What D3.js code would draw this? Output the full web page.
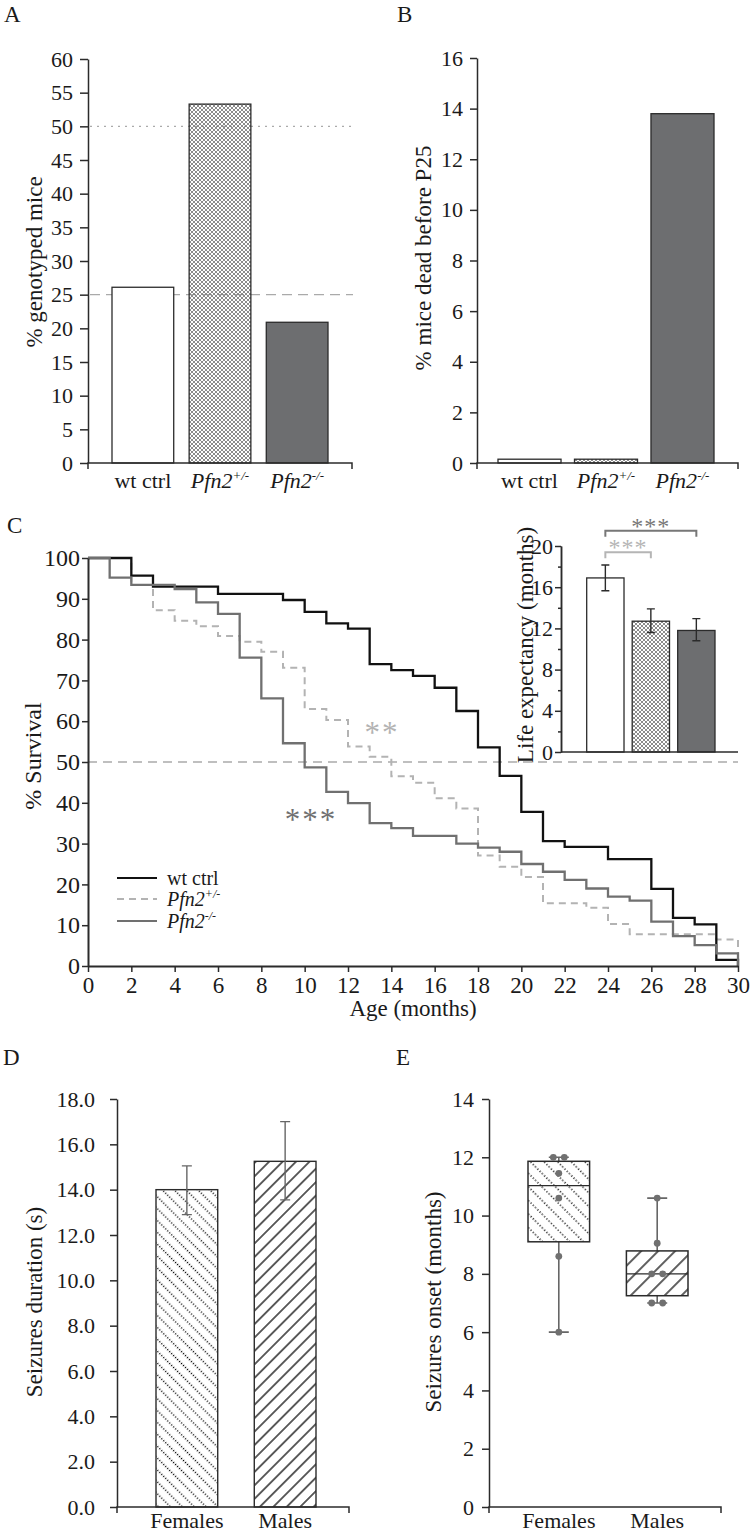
<!DOCTYPE html>
<html>
<head>
<meta charset="utf-8">
<script src="https://cdn.jsdelivr.net/npm/d3@7"></script>
<style>
  body { margin: 0; background: #fff; }
  svg { display: block; font-family: "Liberation Serif", "Times New Roman", serif; }
</style>
</head>
<body>
<svg id="fig" width="752" height="1535"></svg>
<script>
// ---- data ----
const genotypes = ["wt ctrl", "Pfn2+/-", "Pfn2-/-"];
const genotypedPct = [26.1, 53.3, 20.9];
const mendelianRefs = [50, 25];
const deadBeforeP25 = [0.15, 0.15, 13.8];

// Kaplan-Meier steps [month, % survival]
const wtSurvival = [[0, 100], [2, 95.7], [3, 93], [6, 91.2], [9, 89.7], [10, 86.8], [11, 84], [12, 82.7],
  [13, 74], [14, 72.5], [15, 71.1], [16, 68.2], [17, 62.5], [18, 53.6], [19, 46.6], [20, 37.8],
  [21, 30.6], [22, 29.2], [24, 26.2], [26, 18.9], [27, 11.8], [28, 10.2], [29, 1.5]];
const hetSurvival = [[0, 100], [2, 93.4], [3, 87.2], [4, 84.6], [5, 83.3], [6, 80.9], [7, 79.5], [8, 77],
  [9, 73.1], [10, 63], [11, 60.3], [12, 53.8], [13, 51.3], [14, 46.5], [15, 44.9], [16, 41.1],
  [17, 38.6], [18, 27.1], [19, 24.3], [20, 21.8], [21, 15.4], [23, 14.3], [24, 10.3], [25, 7.8], [29, 6.5]];
const koSurvival = [[0, 100], [1, 95.2], [2, 93.4], [4, 92.4], [5, 89.1], [6, 86.3], [7, 75.6], [8, 65.6],
  [9, 54.6], [10, 48.7], [11, 42.7], [12, 39.9], [13, 35], [14, 33.8], [15, 31.9], [17, 30], [18, 29],
  [19, 28], [20, 25], [21, 23.1], [22, 21.1], [23, 19], [24, 17], [25, 16], [26, 10.9], [27, 7.3],
  [28, 5.1], [29, 3.1]];
const survivalTicksX = d3.range(0, 31, 2);
const survivalTicksY = d3.range(0, 101, 10);

const lifeExpectancy = [16.9, 12.7, 11.8];
const lifeExpLow = [15.65, 11.6, 10.8];
const lifeExpHigh = [18.15, 13.9, 12.95];

const sexes = ["Females", "Males"];
const seizureDuration = [14.0, 15.25];
const seizureDurLow = [12.9, 13.55];
const seizureDurHigh = [15.05, 17.0];

const onsetFemales = [12, 12, 11.45, 10.6, 8.6, 6.0];
const onsetMales = [10.6, 9.05, 8.0, 8.0, 7.0, 7.0];

// ---- helpers ----
const svg = d3.select("#fig");
const defs = svg.append("defs");
const ink = "#2b2b2b";
const txt = "#1a1a1a";

const xh = defs.append("pattern").attr("id", "xhatch")
  .attr("patternUnits", "userSpaceOnUse").attr("width", 4).attr("height", 4);
xh.append("path").attr("d", "M0,0L4,4M4,0L0,4").attr("stroke", "#777").attr("stroke-width", 0.85);

function hatch(id, angle, gap, dash, width) {
  const p = defs.append("pattern").attr("id", id)
    .attr("patternUnits", "userSpaceOnUse")
    .attr("width", gap).attr("height", gap)
    .attr("patternTransform", `rotate(${angle})`);
  p.append("rect").attr("width", gap).attr("height", gap).attr("fill", "#fff");
  p.append("line").attr("x1", gap / 2).attr("x2", gap / 2).attr("y1", 0).attr("y2", gap)
    .attr("stroke", "#000").attr("stroke-width", width)
    .attr("stroke-dasharray", dash);
}
hatch("dFem", -45, 8.4, "1.1,1.7", 1.4);
hatch("dMal", 45, 9.5, null, 1.25);
hatch("eFem", -45, 9.6, "1.2,2", 1.4);
hatch("eMal", 45, 12, null, 1.25);

const genoFill = ["#fff", "url(#xhatch)", "#6d6e70"];

function styleAxis(g, fs) {
  g.attr("font-family", null).attr("font-size", null);
  g.select(".domain").attr("stroke", ink).attr("stroke-width", 1.5);
  g.selectAll(".tick line").attr("stroke", ink).attr("stroke-width", 1.5);
  g.selectAll(".tick text").attr("font-size", fs).attr("fill", txt);
}

function genoLabel(sel, g, sup) {
  if (g === "wt ctrl") { sel.text(g); return; }
  sel.append("tspan").attr("font-style", "italic").text(g.slice(0, 4));
  sel.append("tspan").attr("font-style", "italic").attr("font-size", sup).attr("dy", -8).text(g.slice(4));
}

function yLabel(x, y, text, fs) {
  svg.append("text").attr("transform", `translate(${x},${y}) rotate(-90)`)
    .attr("text-anchor", "middle").attr("dominant-baseline", "central")
    .attr("font-size", fs).attr("fill", txt).text(text);
}

function panelLetter(x, y, s) {
  svg.append("text").attr("x", x).attr("y", y).attr("font-size", 23).attr("fill", txt).text(s);
}

function baseAxis(x0, x1, y) {
  svg.append("path").attr("d", `M${x0},${y + 6}V${y}H${x1}V${y + 6}`)
    .attr("fill", "none").attr("stroke", ink).attr("stroke-width", 1.5);
}

// ---- Panel A ----
panelLetter(4, 22, "A");
const yA = d3.scaleLinear().domain([0, 60]).range([463, 59]);
const xA = d3.scaleBand().domain(genotypes).range([112, 328]).paddingInner(0.2);
svg.append("g").selectAll("line").data(mendelianRefs).join("line")
  .attr("x1", 90).attr("x2", 353).attr("y1", d => yA(d)).attr("y2", d => yA(d))
  .attr("stroke", "#aaa").attr("stroke-width", 1.4)
  .attr("stroke-dasharray", (d, i) => i === 0 ? "2,5" : "10,6");
svg.append("g").selectAll("rect").data(genotypes).join("rect")
  .attr("x", d => xA(d)).attr("width", xA.bandwidth())
  .attr("y", (d, i) => yA(genotypedPct[i])).attr("height", (d, i) => yA(0) - yA(genotypedPct[i]))
  .attr("fill", (d, i) => genoFill[i]).attr("stroke", ink).attr("stroke-width", 1.3);
svg.append("g").attr("transform", "translate(88,0)")
  .call(d3.axisLeft(yA).tickValues(d3.range(0, 61, 5)).tickSize(8).tickPadding(7).tickSizeOuter(0))
  .call(g => styleAxis(g, 22));
baseAxis(88, 352, 463);
genotypes.forEach(g => {
  svg.append("text").attr("x", xA(g) + xA.bandwidth() / 2).attr("y", 488)
    .attr("text-anchor", "middle").attr("font-size", 22).attr("fill", txt)
    .call(s => genoLabel(s, g, 13));
});
yLabel(34, 262, "% genotyped mice", 23);

// ---- Panel B ----
panelLetter(397, 22, "B");
const yB = d3.scaleLinear().domain([0, 16]).range([463, 58]);
const xB = d3.scaleBand().domain(genotypes).range([498, 714]).paddingInner(0.176);
svg.append("g").selectAll("rect").data(genotypes).join("rect")
  .attr("x", d => xB(d)).attr("width", xB.bandwidth())
  .attr("y", (d, i) => yB(deadBeforeP25[i])).attr("height", (d, i) => yB(0) - yB(deadBeforeP25[i]))
  .attr("fill", (d, i) => genoFill[i]).attr("stroke", ink).attr("stroke-width", 1.3);
svg.append("g").attr("transform", "translate(477,0)")
  .call(d3.axisLeft(yB).tickValues(d3.range(0, 17, 2)).tickSize(7).tickPadding(7).tickSizeOuter(0))
  .call(g => styleAxis(g, 22));
baseAxis(477, 738, 463);
genotypes.forEach(g => {
  svg.append("text").attr("x", xB(g) + xB.bandwidth() / 2).attr("y", 488)
    .attr("text-anchor", "middle").attr("font-size", 22).attr("fill", txt)
    .call(s => genoLabel(s, g, 13));
});
yLabel(423, 258, "% mice dead before P25", 23);

// ---- Panel C: survival ----
panelLetter(7, 533, "C");
const xC = d3.scaleLinear().domain([0, 30]).range([88, 738]);
const yC = d3.scaleLinear().domain([0, 100]).range([966, 558]);
svg.append("line").attr("x1", xC(0)).attr("x2", xC(30)).attr("y1", yC(50)).attr("y2", yC(50))
  .attr("stroke", "#aaa").attr("stroke-width", 1.4).attr("stroke-dasharray", "9,6");

const step = d3.line().x(d => xC(d[0])).y(d => yC(d[1])).curve(d3.curveStepAfter);
const closeCurve = s => s.concat([[30, s[s.length - 1][1]], [30, 0]]);
const curves = [
  { name: genotypes[1], data: hetSurvival, color: "#b3b3b3", dash: "7,5", w: 2 },
  { name: genotypes[0], data: wtSurvival, color: "#111", dash: null, w: 2.3 },
  { name: genotypes[2], data: koSurvival, color: "#707070", dash: null, w: 2.3 }
];
svg.append("g").selectAll("path").data(curves).join("path")
  .attr("d", d => step(closeCurve(d.data)))
  .attr("fill", "none").attr("stroke", d => d.color).attr("stroke-width", d => d.w)
  .attr("stroke-dasharray", d => d.dash);

svg.append("g").attr("transform", "translate(0,966)")
  .call(d3.axisBottom(xC).tickValues(survivalTicksX).tickSize(6).tickPadding(5).tickSizeOuter(0))
  .call(g => styleAxis(g, 23))
  .call(g => g.select(".domain").attr("stroke-width", 2));
svg.append("g").attr("transform", "translate(88,0)")
  .call(d3.axisLeft(yC).tickValues(survivalTicksY).tickSize(6).tickPadding(2).tickSizeOuter(0))
  .call(g => styleAxis(g, 24))
  .call(g => g.select(".domain").attr("stroke-width", 2));
svg.append("text").attr("x", 413).attr("y", 1016).attr("text-anchor", "middle")
  .attr("font-size", 23).attr("fill", txt).text("Age (months)");
yLabel(33, 756, "% Survival", 24);

svg.append("text").attr("x", 382).attr("y", 743).attr("text-anchor", "middle")
  .attr("font-size", 31).attr("letter-spacing", 2).attr("fill", "#b3b3b3").text("**");
svg.append("text").attr("x", 311).attr("y", 830).attr("text-anchor", "middle")
  .attr("font-size", 31).attr("letter-spacing", 2).attr("fill", "#707070").text("***");

// legend
const legOrder = [curves[1], curves[0], curves[2]];
const leg = svg.append("g").selectAll("g").data(legOrder).join("g")
  .attr("transform", (d, i) => `translate(117,${[878, 899, 921][i]})`);
leg.append("line").attr("x1", 0).attr("x2", 40)
  .attr("stroke", d => d.color).attr("stroke-width", 2).attr("stroke-dasharray", d => d.dash);
leg.append("text").attr("x", 50).attr("y", 7).attr("font-size", 20).attr("fill", txt)
  .each(function (d) { genoLabel(d3.select(this), d.name, 12); });

// inset: life expectancy
const yI = d3.scaleLinear().domain([0, 20]).range([752, 546]);
const xI = d3.scaleBand().domain(genotypes).range([586.7, 715]).paddingInner(0.18);
svg.append("g").selectAll("rect").data(genotypes).join("rect")
  .attr("x", d => xI(d)).attr("width", xI.bandwidth())
  .attr("y", (d, i) => yI(lifeExpectancy[i])).attr("height", (d, i) => yI(0) - yI(lifeExpectancy[i]))
  .attr("fill", (d, i) => genoFill[i]).attr("stroke", ink).attr("stroke-width", 1.3);
const eb = svg.append("g").attr("stroke", ink).attr("stroke-width", 1.4);
genotypes.forEach((g, i) => {
  const cx = xI(g) + xI.bandwidth() / 2;
  eb.append("path").attr("d",
    `M${cx},${yI(lifeExpLow[i])}V${yI(lifeExpHigh[i])}M${cx - 4},${yI(lifeExpLow[i])}H${cx + 4}M${cx - 4},${yI(lifeExpHigh[i])}H${cx + 4}`);
});
svg.append("g").attr("transform", "translate(561,0)")
  .call(d3.axisLeft(yI).tickValues(d3.range(0, 21, 4)).tickSize(6).tickPadding(2).tickSizeOuter(0))
  .call(g => styleAxis(g, 22));
svg.append("g").attr("transform", "translate(561,0)")
  .call(d3.axisLeft(yI).tickValues(d3.range(2, 20, 4)).tickSize(3).tickFormat("").tickSizeOuter(0))
  .call(g => styleAxis(g, 22));
svg.append("line").attr("x1", 561).attr("x2", 738).attr("y1", yI(0)).attr("y2", yI(0))
  .attr("stroke", ink).attr("stroke-width", 1.5);
yLabel(525, 645, "Life expectancy (months)", 23);

const cI = g => xI(g) + xI.bandwidth() / 2;
const brackets = [
  { a: 0, b: 2, y: 530.7, color: "#777" },
  { a: 0, b: 1, y: 552.3, color: "#b5b5b5" }
];
brackets.forEach(br => {
  const x0 = cI(genotypes[br.a]), x1 = cI(genotypes[br.b]);
  svg.append("path").attr("d", `M${x0},${br.y + 6}V${br.y}H${x1}V${br.y + 6}`)
    .attr("fill", "none").attr("stroke", br.color).attr("stroke-width", 2);
  svg.append("text").attr("x", (x0 + x1) / 2).attr("y", br.y + 3).attr("text-anchor", "middle")
    .attr("font-size", 24).attr("letter-spacing", 1).attr("fill", br.color).text("***");
});

// ---- Panel D ----
panelLetter(3, 1065, "D");
const yD = d3.scaleLinear().domain([0, 18]).range([1507, 1099]);
const xD = d3.scaleBand().domain(sexes).range([156, 316]).paddingInner(0.372);
const dFill = ["url(#dFem)", "url(#dMal)"];
svg.append("g").selectAll("rect").data(sexes).join("rect")
  .attr("x", d => xD(d)).attr("width", xD.bandwidth())
  .attr("y", (d, i) => yD(seizureDuration[i])).attr("height", (d, i) => yD(0) - yD(seizureDuration[i]))
  .attr("fill", (d, i) => dFill[i]).attr("stroke", ink).attr("stroke-width", 1.4);
const ebD = svg.append("g").attr("stroke", "#666").attr("stroke-width", 1.4);
sexes.forEach((s, i) => {
  const cx = xD(s) + xD.bandwidth() / 2;
  ebD.append("path").attr("d",
    `M${cx},${yD(seizureDurLow[i])}V${yD(seizureDurHigh[i])}M${cx - 5},${yD(seizureDurLow[i])}H${cx + 5}M${cx - 5},${yD(seizureDurHigh[i])}H${cx + 5}`);
});
svg.append("g").attr("transform", "translate(117,0)")
  .call(d3.axisLeft(yD).tickValues(d3.range(0, 19, 2)).tickSize(7).tickPadding(15)
    .tickFormat(d3.format(".1f")).tickSizeOuter(0))
  .call(g => styleAxis(g, 22));
baseAxis(117, 349, 1507);
sexes.forEach(s => {
  svg.append("text").attr("x", xD(s) + xD.bandwidth() / 2).attr("y", 1528)
    .attr("text-anchor", "middle").attr("font-size", 22).attr("fill", txt).text(s);
});
yLabel(34, 1302, "Seizures duration (s)", 23);

// ---- Panel E ----
panelLetter(396, 1065, "E");
const yE = d3.scaleLinear().domain([0, 14]).range([1507, 1099]);
const xE = d3.scaleBand().domain(sexes).range([528, 688]).paddingInner(0.374);
const eFill = ["url(#eFem)", "url(#eMal)"];
[onsetFemales, onsetMales].forEach((vals, i) => {
  const s = sexes[i];
  const sorted = vals.slice().sort(d3.ascending);
  const q1 = d3.quantile(sorted, 0.25), med = d3.quantile(sorted, 0.5), q3 = d3.quantile(sorted, 0.75);
  const lo = d3.min(sorted), hi = d3.max(sorted);
  const x0 = xE(s), bw = xE.bandwidth(), cx = x0 + bw / 2;
  const g = svg.append("g");
  g.append("path").attr("d",
    `M${cx},${yE(lo)}V${yE(q1)}M${cx},${yE(q3)}V${yE(hi)}M${cx - 10},${yE(lo)}H${cx + 10}M${cx - 10},${yE(hi)}H${cx + 10}`)
    .attr("stroke", "#666").attr("stroke-width", 1.6).attr("fill", "none");
  g.append("rect").attr("x", x0).attr("width", bw).attr("y", yE(q3)).attr("height", yE(q1) - yE(q3))
    .attr("fill", eFill[i]).attr("stroke", ink).attr("stroke-width", 1.5);
  g.append("line").attr("x1", x0).attr("x2", x0 + bw).attr("y1", yE(med)).attr("y2", yE(med))
    .attr("stroke", ink).attr("stroke-width", 1.3);
  // duplicate values sit side by side
  const counts = d3.rollup(vals, v => v.length, d => d);
  const seen = new Map();
  vals.forEach(v => {
    const n = counts.get(v), k = seen.get(v) || 0;
    seen.set(v, k + 1);
    const off = n > 1 ? (k - (n - 1) / 2) * 11 : 0;
    g.append("circle").attr("cx", cx + off).attr("cy", yE(v)).attr("r", 3.4).attr("fill", "#707070");
  });
});
svg.append("g").attr("transform", "translate(489,0)")
  .call(d3.axisLeft(yE).tickValues(d3.range(0, 15, 2)).tickSize(7).tickPadding(8).tickSizeOuter(0))
  .call(g => styleAxis(g, 22));
baseAxis(489, 721, 1507);
sexes.forEach(s => {
  svg.append("text").attr("x", xE(s) + xE.bandwidth() / 2).attr("y", 1528)
    .attr("text-anchor", "middle").attr("font-size", 22).attr("fill", txt).text(s);
});
yLabel(433, 1302, "Seizures onset (months)", 23);
</script>
</body>
</html>
